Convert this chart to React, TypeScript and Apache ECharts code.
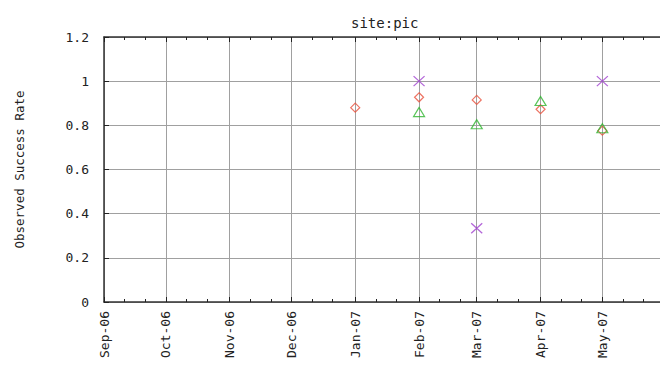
import React, { useEffect, useRef } from "react";
import * as echarts from "echarts";

const monthTicks = [
  "2006-09-01", "2006-10-01", "2006-11-01", "2006-12-01", "2007-01-01",
  "2007-02-01", "2007-03-01", "2007-04-01", "2007-05-01",
];
const monthLabels = ["Sep-06", "Oct-06", "Nov-06", "Dec-06", "Jan-07", "Feb-07", "Mar-07", "Apr-07", "May-07"];
const pointDates = ["2007-01-01", "2007-02-01", "2007-03-01", "2007-04-01", "2007-05-01"];
const seriesA: (number | null)[] = [0.88, 0.927, 0.915, 0.873, 0.776];
const seriesB: (number | null)[] = [null, 0.86, 0.805, 0.91, 0.787];
const seriesC: (number | null)[] = [null, 1.0, 0.334, null, 1.0];
const yTicks = [0, 0.2, 0.4, 0.6, 0.8, 1, 1.2];

const startMs = Date.UTC(2006, 8, 1);
const dayOf = (s: string) => {
  const [y, m, d] = s.split("-").map(Number);
  return Math.round((Date.UTC(y, m - 1, d) - startMs) / 86400000);
};
const majorDays = monthTicks.map(dayOf);
const minorDays: number[] = [];
const allMonthStarts = [...monthTicks, "2007-06-01"];
allMonthStarts.forEach((s) => {
  const d = dayOf(s);
  minorDays.push(d + 10, d + 20);
});
const X_MAX = 270;

const mono = "DejaVu Sans Mono";
const font = { fontFamily: mono, fontSize: 13, color: "#222" };

function pts(vals: (number | null)[]) {
  const out: [number, number][] = [];
  vals.forEach((v, i) => {
    if (v !== null) out.push([dayOf(pointDates[i]), v]);
  });
  return out;
}

export default function App() {
  const ref = useRef<HTMLDivElement>(null);
  useEffect(() => {
    if (!ref.current) return;
    const chart = echarts.init(ref.current, undefined, { renderer: "svg" });
    const axisLine = { show: true, lineStyle: { color: "#333", width: 1.5 } };
    const baseX = { type: "value", min: 0, max: X_MAX, gridIndex: 0 };
    chart.setOption({
      animation: false,
      backgroundColor: "#fff",
      title: {
        text: "site:pic",
        left: 346,
        top: 11,
        textStyle: { fontFamily: mono, fontSize: 14, fontWeight: "normal", color: "#222" },
      },
      grid: { left: 104, top: 37, right: -1, bottom: 71, containLabel: false },
      xAxis: [
        {
          ...baseX,
          position: "bottom",
          axisLine,
          axisTick: { show: true, inside: true, length: 5, customValues: majorDays, lineStyle: { color: "#222" } },
          axisLabel: {
            show: true,
            customValues: majorDays,
            rotate: 90,
            margin: 9,
            ...font,
            formatter: (v: number) => {
              const i = majorDays.indexOf(Math.round(v));
              return i >= 0 ? monthLabels[i] : "";
            },
          },
          splitLine: { show: true, lineStyle: { color: "#a0a0a0", width: 1 } },
        },
        {
          ...baseX,
          position: "top",
          axisLine,
          axisTick: { show: true, inside: true, length: 5, customValues: majorDays, lineStyle: { color: "#222" } },
          axisLabel: { show: false },
          splitLine: { show: false },
        },
        {
          ...baseX,
          position: "bottom",
          axisLine: { show: false },
          axisTick: { show: true, inside: true, length: 3, customValues: minorDays, lineStyle: { color: "#222" } },
          axisLabel: { show: false },
          splitLine: { show: false },
        },
        {
          ...baseX,
          position: "top",
          axisLine: { show: false },
          axisTick: { show: true, inside: true, length: 3, customValues: minorDays, lineStyle: { color: "#222" } },
          axisLabel: { show: false },
          splitLine: { show: false },
        },
      ],
      yAxis: {
        type: "value",
        min: 0,
        max: 1.2,
        interval: 0.2,
        name: "Observed Success Rate",
        nameLocation: "middle",
        nameRotate: 90,
        nameGap: 78,
        nameTextStyle: { fontFamily: mono, fontSize: 12.5, color: "#222" },
        axisLine,
        axisTick: { show: true, inside: true, length: 5, lineStyle: { color: "#222" } },
        axisLabel: {
          ...font,
          margin: 15,
          formatter: (v: number) => {
            const t = yTicks.find((x) => Math.abs(x - v) < 1e-6);
            return t === undefined ? "" : String(t);
          },
        },
        splitLine: { show: true, lineStyle: { color: "#a0a0a0", width: 1 } },
      },
      series: [
        {
          type: "scatter",
          xAxisIndex: 0,
          data: pts(seriesA),
          symbol: "diamond",
          symbolSize: [9, 9],
          itemStyle: { color: "rgba(0,0,0,0)", borderColor: "#e8503c", borderWidth: 1.2 },
          z: 3,
        },
        {
          type: "scatter",
          xAxisIndex: 0,
          data: pts(seriesB),
          symbol: "triangle",
          symbolSize: [11, 9],
          itemStyle: { color: "rgba(0,0,0,0)", borderColor: "#2fb52f", borderWidth: 1.2 },
          z: 4,
        },
        {
          type: "scatter",
          xAxisIndex: 0,
          data: pts(seriesC),
          symbol: "path://M0 0L10 10M10 0L0 10",
          symbolSize: [11, 10],
          itemStyle: { color: "rgba(0,0,0,0)", borderColor: "#a040d0", borderWidth: 1.2 },
          z: 5,
        },
      ],
    });
    return () => chart.dispose();
  }, []);
  return (
    <div
      ref={ref}
      style={{ position: "fixed", left: 0, top: 0, width: 660, height: 373, background: "#fff" }}
    />
  );
}
